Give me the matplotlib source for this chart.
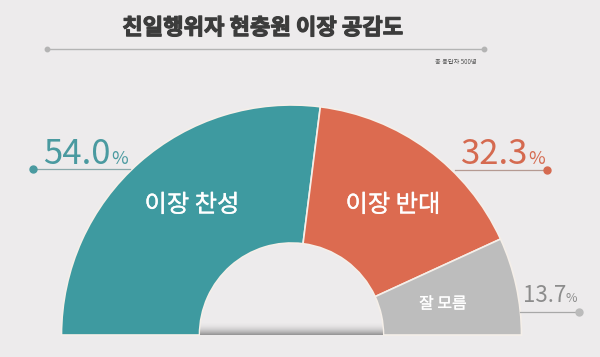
import numpy as np
import matplotlib
matplotlib.use("Agg")
import matplotlib.pyplot as plt
import matplotlib.patheffects as pe
from matplotlib.patches import Wedge

plt.rcParams['font.family'] = ['Noto Sans CJK KR', 'DejaVu Sans']

title = "친일행위자 현충원 이장 공감도"
note = "총 응답자 500명"
categories = ["이장 찬성", "이장 반대", "잘 모름"]
values = [54.0, 32.3, 13.7]
colors = ["#3e9aa0", "#dc6b50", "#bdbdbd"]
text_colors = ["#4a9aa0", "#d56a50", "#8c8c8c"]

W, H = 600, 357
fig = plt.figure(figsize=(W / 100, H / 100), dpi=100)
fig.patch.set_facecolor("#edebec")
ax = fig.add_axes([0, 0, 1, 1])
ax.set_xlim(0, W)
ax.set_ylim(H, 0)
ax.axis("off")
ax.set_facecolor("#edebec")

cx, cy = 291.5, 335
r_out, r_in = 230, 92

total = sum(values)
start = 180.0
for v, c in zip(values, colors):
    span = 180.0 * v / total
    end = start - span
    w = Wedge((cx, cy), r_out, -start, -end, width=r_out - r_in,
              facecolor=c, edgecolor="#f5efe9", linewidth=1.2)
    ax.add_patch(w)
    start = end

# soft shadow at bottom of hole
grad = np.linspace(0, 1, 60).reshape(-1, 1) ** 2.0
hole = Wedge((cx, cy), r_in - 0.5, 180, 360)
hole.set_transform(ax.transData)
img = ax.imshow(np.dstack([np.full_like(grad, 0.42)] * 3 + [grad * 0.7]),
                extent=[cx - r_in, cx + r_in, cy, cy - 13],
                aspect="auto", zorder=1.5, interpolation="bilinear")
img.set_clip_path(hole)
ax.set_xlim(0, W)
ax.set_ylim(H, 0)

def bolden(color, lw):
    return [pe.withStroke(linewidth=lw, foreground=color)]

# title and rule
ax.text(263, 28, title, ha="center", va="center", fontsize=16,
        fontweight="bold", color="#3c3c3c", path_effects=bolden("#3c3c3c", 0.8))
ax.plot([47, 484], [49, 49], color="#b4b4b4", lw=1.0)
ax.plot([47, 484], [49, 49], "o", color="#b4b4b4", ms=3.2)
ax.text(477, 62, note, ha="right", va="center", fontsize=4.5, color="#555555")

# inner labels
ax.text(192, 205, categories[0], ha="center", va="center", fontsize=17.5,
        color="white", path_effects=bolden("white", 0.25))
ax.text(393, 205, categories[1], ha="center", va="center", fontsize=17.5,
        color="white", path_effects=bolden("white", 0.25))
ax.text(443, 304, categories[2], ha="center", va="center", fontsize=11.5,
        color="white", path_effects=bolden("white", 0.2))

# 54.0%
ax.text(111, 154, f"{values[0]:.1f}", ha="right", va="center",
        fontsize=25, fontweight="light", color=text_colors[0])
ax.text(111, 159, "%", ha="left", va="center", fontsize=13, color=text_colors[0])
ax.plot([33, 130], [169, 169], color="#8aa9ab", lw=0.9)
ax.plot([33], [169], "o", color=text_colors[0], ms=5)

# 32.3%
ax.text(528, 154, f"{values[1]:.1f}", ha="right", va="center",
        fontsize=25, fontweight="light", color=text_colors[1])
ax.text(528, 159, "%", ha="left", va="center", fontsize=13, color=text_colors[1])
ax.plot([455, 547], [170, 170], color="#b59a92", lw=0.9)
ax.plot([547], [170], "o", color=text_colors[1], ms=5)

# 13.7%
ax.text(566, 296, f"{values[2]:.1f}", ha="right", va="center",
        fontsize=16, fontweight="light", color=text_colors[2])
ax.text(566, 299, "%", ha="left", va="center", fontsize=9, color=text_colors[2])
ax.plot([520, 579], [312, 312], color="#a8a8a8", lw=0.9)
ax.plot([579], [312], "o", color="#bbbbbb", ms=5)

fig.savefig("out.png", dpi=100, facecolor=fig.get_facecolor())
